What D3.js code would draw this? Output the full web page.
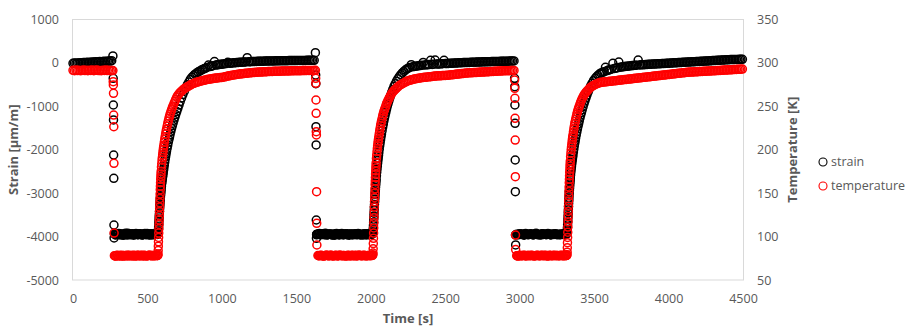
<!DOCTYPE html>
<html>
<head>
<meta charset="utf-8">
<script src="https://cdn.jsdelivr.net/npm/d3@7"></script>
<style>
  body { margin: 0; background: #fff; }
  #chart text { font-family: "Open Sans", "DejaVu Sans", sans-serif; fill: #595959; }
  #chart .tick text { font-size: 12.5px; }
  #chart .title { font-size: 13px; font-weight: bold; }
  #chart .legend text { font-size: 12.5px; }
</style>
</head>
<body>
<svg id="chart" width="905" height="329"></svg>
<script>
"use strict";

// cycle 1: steady, cool-down, cold plateau, warm-up
const time1 = [
  0, 10, 20, 30, 40, 50, 60, 70, 80, 90, 100, 110, 120, 130, 140, 150, 160, 170, 180, 190,
  200, 210, 220, 230, 240, 250, 260, 268,
  270, 271, 272, 273, 274, 275, 276,
  278, 283, 288, 293, 298, 303, 308, 313, 318, 323, 328, 333, 338, 343, 348, 353, 358, 363,
  368, 373, 378, 383, 388, 393, 398, 403, 408, 413, 418, 423, 428, 433, 438, 443, 448, 453,
  458, 463, 468, 473, 478, 483, 488, 493, 498, 503, 508, 513, 518, 523, 528, 533, 538, 543,
  548, 553, 558,
  565, 568, 570, 571, 572, 573, 574, 575, 576, 577, 578, 579, 580, 581, 582, 583, 584, 585,
  586, 587, 588, 589, 590, 591, 592, 594, 596, 598, 600, 602, 604, 606, 608, 610, 613, 616,
  619, 622, 625, 628, 632, 636, 640, 644, 648, 652, 657, 662, 667, 672, 678, 684, 690, 697,
  704, 712, 720, 729, 738, 748, 758, 768, 778, 788, 798,
  810, 820, 830, 840, 850, 860, 870, 880, 890, 900, 910, 920, 930, 940, 950, 960, 970, 980,
  990, 1000, 1010, 1020, 1030, 1040, 1050, 1060, 1070, 1080, 1090, 1100, 1110, 1120, 1130,
  1140, 1150, 1160, 1170, 1180, 1190, 1200, 1210, 1220, 1230, 1240, 1250, 1260, 1270, 1280,
  1290, 1300, 1310, 1320, 1330, 1340, 1350, 1360, 1370, 1380, 1390, 1400, 1410, 1420, 1430,
  1440, 1450, 1460, 1470, 1480, 1490, 1500, 1510, 1520, 1530, 1540, 1550, 1560, 1570, 1580,
  1590, 1600, 1610, 1620,
];
const strain1 = [
  -10, -4, -8, 0, -2, 6, 3, 8, 11, 7, 14, 12, 18, 21, 16, 24, 22, 28, 31, 27,
  34, 37, 33, 41, 45, 42, 52, 160,
  -354, -969, -1314, -2121, -2657, -3733, -4032,
  -3940, -3952, -3965, -3944, -3948, -3936, -3930, -3958, -3955, -3941,
  -3942, -3960, -3970, -3949, -3938, -3926, -3950, -3962, -3925, -3947,
  -3960, -3939, -3945, -3956, -3935, -3951, -3968, -3943, -3950, -3931,
  -3940, -3957, -3958, -3946, -3932, -3939, -3948, -3964, -3962, -3944,
  -3940, -3929, -3952, -3955, -3928, -3947, -3955, -3962, -3945, -3936,
  -3965, -3942, -3938, -3953, -3950, -3946, -3943,
  -3950, -3945, -3935, -3920, -3900, -3870, -3830, -3780, -3720, -3660, -3600, -3540, -3480,
  -3420, -3360, -3300, -3250, -3200, -3150, -3100, -3060, -3020, -2980, -2940, -2900, -2840,
  -2780, -2730, -2680, -2630, -2580, -2530, -2480, -2430, -2360, -2290, -2220, -2160, -2100,
  -2040, -1970, -1900, -1830, -1770, -1710, -1650, -1580, -1510, -1450, -1390, -1320, -1250,
  -1190, -1120, -1050, -970, -890, -810, -730, -650, -570, -500, -440, -380, -330,
  -290, -260, -235, -210, -190, -170, -150, -135, -120, -105, -50, -85, -75, -65, 30, -50,
  -44, -38, -33, -28, -23, -19, -15, 15, -8, -5, -2, 1, 4, 7, 10, 13, 16, 18, 20, 22, 120,
  26, 28, 30, 32, 33, 35, 36, 38, 39, 40, 41, 42, 43, 44, 45, 46, 46, 47, 48, 48, 49, 50,
  50, 51, 51, 52, 52, 53, 53, 54, 54, 55, 55, 56, 56, 57, 57, 58, 58, 59, 59, 60, 60, 61, 61,
];
const temp1 = [
  291.5, 291, 291.8, 291.2, 291.6, 291, 291.4, 291.8, 291.2, 291.5, 291, 291.6, 291.3, 291.7,
  291.1, 291.5, 291.8, 291.2, 291.4, 291, 291.6, 291.3, 291.7, 291.2, 291.5, 291, 291.4, 291.2,
  278.4, 274.6, 265, 240, 226.5, 184.4, 104,
  78, 77.7, 77.5, 78.1, 78.4, 77.9, 77.8, 78.3, 78.2, 77.6,
  78.6, 78, 77.6, 78.2, 78, 77.8, 78.3, 78.5, 77.7, 78.1,
  78.5, 78, 77.9, 78.3, 78.1, 77.7, 78.4, 78.2, 77.6, 78,
  78, 78.4, 78.6, 77.9, 77.8, 78.1, 78.2, 78.5, 77.9, 77.7,
  78.4, 78.1, 78, 77.8, 77.7, 78.2, 78.3, 78.6, 78.5, 78,
  77.8, 78.2, 78.1, 77.9, 78, 78.3, 78.2,
  78, 78.2, 78.5, 80, 84, 89, 94, 99, 104, 109, 114, 119, 124, 129, 134, 139, 144, 149, 154,
  158, 162, 166, 169, 172, 175, 180, 184, 188, 191, 194, 197, 200, 202.5, 205, 208.5, 212,
  215, 218, 221, 223.5, 227, 230, 233, 236, 238.5, 241, 243.5, 246, 248.5, 250.5, 253, 255.5,
  258, 260.5, 262.5, 264.5, 266, 267.5, 269, 270.5, 271.5, 272.5, 273.5, 274.5, 275.5,
  276.3, 277, 277.6, 278.2, 278.7, 279.2, 279.6, 280, 280.4, 280.8, 281.1, 281.4, 281.7, 282,
  282.3, 282.5, 282.7, 282.9, 283.1, 283.3, 283.6, 284, 284.4, 284.8, 285.2, 285.5, 285.8,
  286.1, 286.4, 286.7, 287, 287.2, 287.4, 287.6, 287.8, 288, 288.2, 288.4, 288.6, 288.8, 289,
  289.1, 289.2, 289.3, 289.4, 289.5, 289.6, 289.7, 289.8, 289.9, 290, 290.1, 290.1, 290.2,
  290.3, 290.3, 290.4, 290.5, 290.5, 290.6, 290.6, 290.7, 290.7, 290.8, 290.8, 290.9, 290.9,
  291, 291, 291, 291.1, 291.1, 291.1, 291.2, 291.2, 291.2, 291.3, 291.3, 291.3, 291.4, 291.4,
  291.4,
];

// cycle 2
const time2 = [
  1628, 1630, 1631, 1632, 1633, 1634, 1635, 1636, 1637, 1638,
  1645, 1650, 1655, 1660, 1665, 1670, 1675, 1680, 1685, 1690,
  1695, 1700, 1705, 1710, 1715, 1720, 1725, 1730, 1735, 1740,
  1745, 1750, 1755, 1760, 1765, 1770, 1775, 1780, 1785, 1790,
  1795, 1800, 1805, 1810, 1815, 1820, 1825, 1830, 1835, 1840,
  1845, 1850, 1855, 1860, 1865, 1870, 1875, 1880, 1885, 1890,
  1895, 1900, 1905, 1910, 1915, 1920, 1925, 1930, 1935, 1940,
  1945, 1950, 1955, 1960, 1965, 1970, 1975, 1980, 1985, 1990,
  1995, 2000, 2005,
  2009, 2012, 2014, 2015, 2016, 2017, 2018, 2019, 2020, 2021, 2022, 2023, 2024, 2025, 2026,
  2027, 2028, 2029, 2030, 2031, 2032, 2033, 2034, 2035, 2036, 2038, 2040, 2042, 2044, 2046,
  2048, 2050, 2052, 2054, 2057, 2060, 2063, 2066, 2069, 2072, 2076, 2080, 2084, 2088, 2092,
  2096, 2101, 2106, 2111, 2116, 2122, 2128, 2134, 2141, 2148, 2156, 2164, 2173, 2182, 2192,
  2202, 2212, 2222, 2232, 2242,
  2252, 2262, 2272, 2282, 2292, 2302, 2312, 2322, 2332, 2342, 2352, 2362, 2372, 2382, 2392,
  2402, 2412, 2422, 2432, 2442, 2452, 2462, 2472, 2482, 2492, 2502, 2512, 2522, 2532, 2542,
  2552, 2562, 2572, 2582, 2592, 2602, 2612, 2622, 2632, 2642, 2652, 2662, 2672, 2682, 2692,
  2702, 2712, 2722, 2732, 2742, 2752, 2762, 2772, 2782, 2792, 2802, 2812, 2822, 2832, 2842,
  2852, 2862, 2872, 2882, 2892, 2902, 2912, 2922, 2932, 2942, 2952, 2962,
];
const strain2 = [
  237, -278, -480, -1469, -1890, -3618, -4039, -3960, -3950, -3945,
  -3945, -3938, -3930, -3952, -3960, -3947, -3940, -3933, -3952, -3956,
  -3925, -3944, -3965, -3957, -3948, -3941, -3938, -3949, -3955, -3961,
  -3942, -3953, -3970, -3950, -3935, -3929, -3950, -3946, -3958, -3962,
  -3940, -3934, -3928, -3947, -3962, -3951, -3945, -3937, -3950, -3958,
  -3935, -3955, -3968, -3950, -3942, -3939, -3955, -3960, -3938, -3944,
  -3948, -3933, -3960, -3952, -3930, -3941, -3952, -3963, -3944, -3948,
  -3966, -3954, -3940, -3936, -3950, -3962, -3935, -3943, -3958, -3950,
  -3945, -3939, -3950,
  -3945, -3935, -3915, -3890, -3850, -3800, -3740, -3670, -3600, -3530, -3460, -3390, -3320,
  -3260, -3200, -3140, -3080, -3020, -2970, -2920, -2870, -2820, -2770, -2720, -2680, -2600,
  -2520, -2450, -2380, -2310, -2250, -2190, -2130, -2070, -1990, -1910, -1840, -1770, -1700,
  -1640, -1560, -1480, -1410, -1340, -1270, -1210, -1140, -1070, -1000, -940, -870, -800,
  -740, -670, -610, -540, -480, -420, -365, -315, -270, -230, -195, -165, -140,
  -120, -105, -40, -88, -82, -76, -70, -65, -60, -56, 10, -48, -45, -42, -39, 60, -34, -31,
  65, -27, -25, -23, -21, -19, 60, -16, -14, -12, -10, -8, -6, -4, -2, 0, 2, 4, 6, 7, 8, 10,
  11, 12, 14, 15, 16, 18, 19, 20, 21, 22, 24, 25, 26, 27, 28, 29, 30, 31, 32, 33, 34, 35, 36,
  37, 38, 39, 40, 41, 42, 43, 44, 45,
];
const temp2 = [
  291.5, 282.3, 276.5, 257.3, 242, 220.8, 217, 151.7, 115.3, 90.3,
  78.2, 78, 77.8, 78.3, 78.5, 78.1, 78, 77.7, 77.6, 78,
  78.3, 78.5, 78.6, 78.2, 77.9, 77.8, 78.1, 78.4, 78.4, 78,
  77.7, 77.9, 78, 78.3, 78.5, 78.1, 77.8, 77.7, 78.2, 78.5,
  78.6, 78.3, 77.9, 78, 78.3, 78.2, 78, 77.8, 77.6, 78,
  78.4, 78.2, 78.1, 77.9, 77.8, 78.1, 78.5, 78.3, 78, 77.8,
  78.3, 78.5, 77.7, 78, 78.2, 78.4, 78.6, 78.2, 77.9, 78,
  78.1, 78.3, 78.4, 78.1, 77.8, 77.9, 78, 78.2, 78.3, 78.1,
  78, 78.1, 78.2,
  78.2, 78.4, 79.2, 81, 86, 92, 98, 104, 110, 116, 122, 128, 134, 140, 145, 150, 155, 160, 164,
  168, 172, 175.5, 179, 182, 185, 190, 194, 198, 201.5, 204.5, 207.5, 210, 212.5, 215, 218.5,
  222, 225, 228, 230.5, 233, 236, 239, 241.5, 244, 246, 248, 250.5, 253, 255, 257, 259, 261,
  263, 265, 266.5, 268, 269.5, 271, 272.5, 274, 275, 276, 277, 278, 278.8,
  279.5, 280, 280.5, 281, 281.4, 281.8, 282.1, 282.4, 282.7, 283, 283.2, 283.4, 283.6, 283.8,
  284, 284.2, 284.4, 284.6, 284.8, 285, 285.1, 285.2, 285.3, 285.4, 285.5, 285.6, 285.7, 285.9,
  286.1, 286.3, 286.5, 286.7, 286.9, 287.1, 287.3, 287.5, 287.7, 287.9, 288.1, 288.3, 288.5,
  288.6, 288.7, 288.8, 288.9, 289, 289.1, 289.2, 289.3, 289.4, 289.5, 289.6, 289.7, 289.8,
  289.9, 290, 290.1, 290.2, 290.3, 290.4, 290.5, 290.6, 290.7, 290.8, 290.9, 291, 291, 291.1,
  291.1, 291.2, 291.2, 291.3,
];

// cycle 3
const time3 = [
  2966, 2967, 2968, 2969, 2970, 2971, 2972, 2973,
  2980, 2985, 2990, 2995, 3000, 3005, 3010, 3015, 3020, 3025,
  3030, 3035, 3040, 3045, 3050, 3055, 3060, 3065, 3070, 3075,
  3080, 3085, 3090, 3095, 3100, 3105, 3110, 3115, 3120, 3125,
  3130, 3135, 3140, 3145, 3150, 3155, 3160, 3165, 3170, 3175,
  3180, 3185, 3190, 3195, 3200, 3205, 3210, 3215, 3220, 3225,
  3230, 3235, 3240, 3245, 3250, 3255, 3260, 3265, 3270, 3275,
  3280, 3285, 3290, 3295, 3300, 3305, 3310,
  3313, 3316, 3318, 3319, 3320, 3321, 3322, 3323, 3324, 3325, 3326, 3327, 3328, 3329, 3330,
  3331, 3332, 3333, 3334, 3335, 3336, 3337, 3338, 3339, 3340, 3342, 3344, 3346, 3348, 3350,
  3352, 3354, 3356, 3358, 3361, 3364, 3367, 3370, 3373, 3376, 3380, 3384, 3388, 3392, 3396,
  3400, 3405, 3410, 3415, 3420, 3426, 3432, 3438, 3445, 3452, 3460, 3468, 3477, 3486, 3496,
  3506, 3516, 3526, 3536, 3546,
  3556, 3566, 3576, 3586, 3596, 3606, 3616, 3626, 3636, 3646, 3656, 3666, 3676, 3686, 3696,
  3706, 3716, 3726, 3736, 3746, 3756, 3766, 3776, 3786, 3796, 3806, 3816, 3826, 3836, 3846,
  3856, 3866, 3876, 3886, 3896, 3906, 3916, 3926, 3936, 3946, 3956, 3966, 3976, 3986, 3996,
  4006, 4016, 4026, 4036, 4046, 4056, 4066, 4076, 4086, 4096, 4106, 4116, 4126, 4136, 4146,
  4156, 4166, 4176, 4186, 4196, 4206, 4216, 4226, 4236, 4246, 4256, 4266, 4276, 4286, 4296,
  4306, 4316, 4326, 4336, 4346, 4356, 4366, 4376, 4386, 4396, 4406, 4416, 4426, 4436, 4446,
  4456, 4466, 4476, 4486, 4496,
];
const strain3 = [
  -354, -548, -969, -1391, -2236, -2966, -3963, -4193,
  -3945, -3953, -3960, -3947, -3935, -3944, -3952, -3946, -3940, -3955,
  -3968, -3949, -3930, -3941, -3950, -3954, -3957, -3948, -3942, -3939,
  -3938, -3951, -3962, -3955, -3948, -3936, -3925, -3940, -3955, -3950,
  -3945, -3956, -3965, -3950, -3935, -3943, -3950, -3946, -3942, -3951,
  -3958, -3944, -3930, -3939, -3948, -3956, -3963, -3951, -3940, -3946,
  -3952, -3944, -3936, -3946, -3955, -3950, -3945, -3953, -3960, -3950,
  -3940, -3945, -3950, -3941, -3932, -3940, -3948,
  -3945, -3930, -3910, -3880, -3840, -3790, -3730, -3660, -3590, -3520, -3450, -3380, -3310,
  -3240, -3170, -3110, -3050, -2990, -2940, -2890, -2840, -2790, -2740, -2695, -2650, -2580,
  -2510, -2450, -2390, -2330, -2270, -2220, -2170, -2120, -2050, -1980, -1910, -1850, -1790,
  -1730, -1660, -1590, -1520, -1460, -1400, -1340, -1270, -1200, -1140, -1080, -1010, -940,
  -880, -810, -740, -670, -600, -530, -470, -410, -360, -320, -285, -255, -230,
  -220, -205, -100, -178, -166, -155, -145, -10, -128, -120, -112, 20, -99, -93, -88, -83,
  -78, -74, -70, -66, -62, -59, -56, -53, 65, -48, -45, -42, -40, -38, -35, -33, -31, -29,
  -27, -25, -23, -21, -19, -17, -15, -13, -11, -9, -7, -5, -3, -1, 1, 3, 5, 7, 9, 11, 13, 15,
  17, 19, 21, 23, 25, 27, 29, 31, 33, 35, 37, 39, 41, 43, 45, 47, 49, 51, 53, 55, 57, 59, 61,
  63, 65, 67, 69, 71, 73, 75, 76, 77, 78, 79, 80, 81, 82, 83, 84,
];
const temp3 = [
  280.3, 270.8, 259.2, 236.2, 211.2, 169, 101.8, 85,
  78, 77.8, 77.6, 78, 78.4, 78.1, 77.8, 78, 78.2, 78.3,
  78.5, 78.1, 77.7, 77.9, 78.1, 78.2, 78.3, 78.1, 77.9, 78.3,
  78.6, 78.3, 78, 77.8, 77.7, 78, 78.2, 78.3, 78.4, 78.1,
  77.8, 78, 78.1, 78.3, 78.5, 78.2, 77.9, 78.1, 78.3, 78.4,
  78, 77.8, 77.6, 78, 78.4, 78.3, 78.2, 78, 77.8, 78.2,
  78.5, 78.2, 78, 78.2, 78.3, 78.1, 77.9, 78, 78.1, 78.3,
  78.4, 78.1, 77.8, 78, 78.2, 78.1, 78,
  78.2, 78.4, 79, 82, 87, 93, 99, 105, 111, 117, 123, 129, 135, 141, 147, 152, 157, 162, 166,
  170, 174, 177.5, 181, 184, 187, 192, 196, 200, 203, 206, 209, 212, 214.5, 217, 220.5, 224,
  227, 230, 232.5, 235, 238, 241, 243.5, 246, 248, 250, 252.5, 255, 257, 259, 261, 263, 264.5,
  266, 267.5, 269, 270.5, 272, 273, 274, 275, 275.8, 276.5, 277.1, 277.6,
  277.8, 278, 278.2, 278.4, 278.6, 278.8, 279, 279.2, 279.4, 279.6, 279.8, 280, 280.2, 280.4,
  280.6, 280.8, 281, 281.2, 281.4, 281.6, 281.8, 282, 282.2, 282.4, 282.6, 282.8, 283, 283.2,
  283.4, 283.6, 283.8, 284, 284.2, 284.4, 284.6, 284.8, 285, 285.2, 285.4, 285.6, 285.8, 286,
  286.2, 286.4, 286.6, 286.8, 287, 287.2, 287.4, 287.6, 287.8, 288, 288.2, 288.4, 288.6, 288.8,
  289, 289.2, 289.3, 289.4, 289.5, 289.6, 289.7, 289.8, 289.9, 290, 290.1, 290.2, 290.3, 290.4,
  290.5, 290.6, 290.7, 290.8, 290.9, 291, 291.1, 291.2, 291.3, 291.4, 291.5, 291.6, 291.7,
  291.8, 291.9, 292, 292.1, 292.2, 292.3, 292.4, 292.5, 292.6, 292.7, 292.8, 292.9,
];

const timeTicks = [0, 500, 1000, 1500, 2000, 2500, 3000, 3500, 4000, 4500];
const strainTicks = [1000, 0, -1000, -2000, -3000, -4000, -5000];
const tempTicks = [350, 300, 250, 200, 150, 100, 50];
const seriesNames = ["strain", "temperature"];

window.addEventListener("load", draw);

// join the three cycles into one list of samples
function collect() {
  const rows = [];
  [[time1, strain1, temp1], [time2, strain2, temp2], [time3, strain3, temp3]].forEach(([t, s, k]) => {
    const n = Math.min(t.length, s.length, k.length);
    if (n !== t.length || n !== s.length || n !== k.length) {
      console.warn("length mismatch", t.length, s.length, k.length);
    }
    for (let i = 0; i < n; i++) rows.push({ time: t[i], strain: s[i], temp: k[i] });
  });
  return rows;
}

function draw() {
  const svg = d3.select("#chart");
  const rows = collect();

  const left = 73, right = 743, top = 19.5, bottom = 280;
  const x = d3.scaleLinear().domain([0, 4500]).range([left, right]);
  const yStrain = d3.scaleLinear().domain([-5000, 1000]).range([bottom, top]);
  const yTemp = d3.scaleLinear().domain([50, 350]).range([bottom, top]);

  svg.append("rect").attr("width", 905).attr("height", 329).attr("fill", "#fff");

  // the source picture is a soft scan, so the markers get a light blur
  svg.append("defs").append("filter").attr("id", "soft")
    .attr("x", "-5%").attr("y", "-5%").attr("width", "110%").attr("height", "110%")
    .append("feGaussianBlur").attr("stdDeviation", 0.45);

  // plot area frame
  svg.append("rect")
    .attr("x", left - 0.5).attr("y", top)
    .attr("width", right - left + 1).attr("height", bottom - top)
    .attr("fill", "none").attr("stroke", "#d9d9d9").attr("stroke-width", 1);

  const colors = { strain: "#000000", temperature: "#ff0000" };
  const markerR = 4, markerW = 1.5;

  svg.append("g").attr("filter", "url(#soft)")
    .selectAll("circle").data(rows).join("circle")
    .attr("cx", (d) => x(d.time))
    .attr("cy", (d) => yStrain(d.strain))
    .attr("r", markerR)
    .attr("fill", "none")
    .attr("stroke", colors.strain)
    .attr("stroke-width", markerW);

  svg.append("g").attr("filter", "url(#soft)")
    .selectAll("circle").data(rows).join("circle")
    .attr("cx", (d) => x(d.time))
    .attr("cy", (d) => yTemp(d.temp))
    .attr("r", markerR)
    .attr("fill", "none")
    .attr("stroke", colors.temperature)
    .attr("stroke-width", markerW);

  const noDomain = (g) => g.select(".domain").remove();

  svg.append("g").attr("transform", `translate(${left},0)`)
    .call(d3.axisLeft(yStrain).tickValues(strainTicks).tickSize(0).tickPadding(14).tickFormat((v) => String(v)))
    .call(noDomain);

  svg.append("g").attr("transform", `translate(${right},0)`)
    .call(d3.axisRight(yTemp).tickValues(tempTicks).tickSize(0).tickPadding(14).tickFormat((v) => String(v)))
    .call(noDomain);

  svg.append("g").attr("transform", `translate(0,${bottom})`)
    .call(d3.axisBottom(x).tickValues(timeTicks).tickSize(0).tickPadding(14).tickFormat((v) => String(v)))
    .call(noDomain);

  // axis titles
  svg.append("text").attr("class", "title")
    .attr("transform", `translate(18,${(top + bottom) / 2}) rotate(-90)`)
    .attr("text-anchor", "middle").text("Strain [µm/m]");
  svg.append("text").attr("class", "title")
    .attr("transform", `translate(797,${(top + bottom) / 2}) rotate(-90)`)
    .attr("text-anchor", "middle").text("Temperature [K]");
  svg.append("text").attr("class", "title")
    .attr("x", (left + right) / 2).attr("y", 323)
    .attr("text-anchor", "middle").text("Time [s]");

  // legend
  const legend = svg.append("g").attr("class", "legend").attr("transform", "translate(823,162)");
  const item = legend.selectAll("g").data(seriesNames).join("g")
    .attr("transform", (d, i) => `translate(0,${i * 24})`);
  item.append("circle").attr("r", 4).attr("fill", "none")
    .attr("stroke", (d) => colors[d]).attr("stroke-width", 1.1);
  item.append("text").attr("x", 8).attr("dy", "0.35em").text((d) => d);
}
</script>
</body>
</html>
